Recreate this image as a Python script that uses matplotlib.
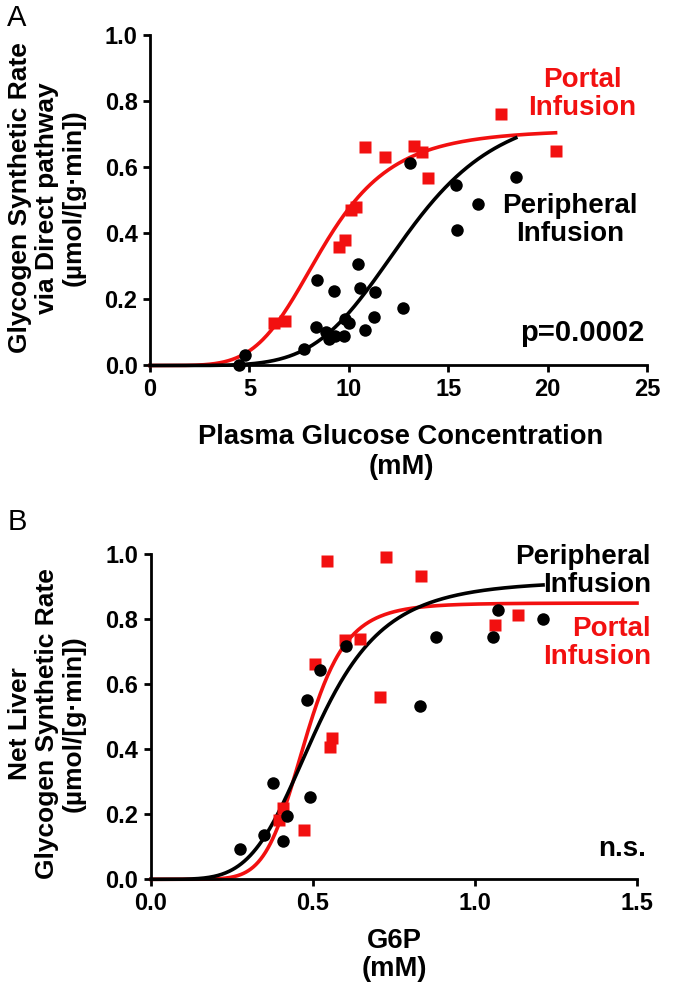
import numpy as np
import matplotlib
matplotlib.use("Agg")
import matplotlib.pyplot as plt

plt.rcParams['font.family'] = ['Liberation Sans', 'DejaVu Sans']

# ---------------- Panel A data ----------------
a_portal_x = [6.25, 6.8, 9.5, 9.83, 10.1, 10.35, 10.8, 11.8, 13.3, 13.67, 13.97, 17.67, 20.4]
a_portal_y = [0.13, 0.135, 0.358, 0.38, 0.47, 0.48, 0.66, 0.63, 0.665, 0.646, 0.566, 0.76, 0.65]
a_periph_x = [4.5, 4.78, 7.75, 8.33, 8.42, 8.83, 9.0, 9.25, 9.33, 9.75, 9.83, 10.0, 10.47,
              10.58, 10.8, 11.25, 11.33, 12.75, 13.08, 15.37, 15.42, 16.5, 18.42]
a_periph_y = [0.0, 0.032, 0.05, 0.116, 0.258, 0.10, 0.08, 0.225, 0.09, 0.088, 0.14, 0.128, 0.306,
              0.234, 0.108, 0.148, 0.222, 0.174, 0.613, 0.547, 0.41, 0.488, 0.57]
# Hill fit parameters (Vmax, K, n) and curve x-range
a_portal_fit = (0.715, 8.7, 4.9)
a_periph_fit = (0.79, 12.9, 5.4)
a_portal_range = (0.0, 20.4)
a_periph_range = (0.0, 18.4)

# ---------------- Panel B data ----------------
b_portal_x = [0.396, 0.407, 0.473, 0.507, 0.553, 0.559, 0.598, 0.644, 0.708, 0.542, 0.725, 0.832, 1.062, 1.134]
b_portal_y = [0.182, 0.218, 0.152, 0.662, 0.408, 0.434, 0.736, 0.739, 0.56, 0.98, 0.993, 0.933, 0.782, 0.813]
b_periph_x = [0.276, 0.350, 0.378, 0.406, 0.42, 0.483, 0.492, 0.522, 0.603, 0.829, 0.88, 1.055, 1.072, 1.211]
b_periph_y = [0.092, 0.135, 0.295, 0.118, 0.195, 0.552, 0.254, 0.644, 0.719, 0.534, 0.746, 0.745, 0.829, 0.80]
b_portal_fit = (0.85, 0.475, 7.5)
b_periph_fit = (0.92, 0.51, 4.8)
b_portal_range = (0.0, 1.5)
b_periph_range = (0.0, 1.21)

a_xticks = [0, 5, 10, 15, 20, 25]
b_xticks = [0.0, 0.5, 1.0, 1.5]
yticks = [0.0, 0.2, 0.4, 0.6, 0.8, 1.0]

RED = '#f21010'
W, H = 677, 994


def hill(x, p):
    v, k, n = p
    x = np.asarray(x, float)
    return v * x ** n / (k ** n + x ** n)


def px(x, y):
    return x / W, 1 - y / H


fig = plt.figure(figsize=(W / 100, H / 100), dpi=100)


def style_axes(ax):
    for s in ['top', 'right']:
        ax.spines[s].set_visible(False)
    for s in ['left', 'bottom']:
        ax.spines[s].set_linewidth(2.0)
    ax.tick_params(width=2.0, length=5, labelsize=17, pad=4)
    for lab in ax.get_xticklabels() + ax.get_yticklabels():
        lab.set_fontweight('bold')


# Panel A
axA = fig.add_axes([150 / W, 1 - 365.5 / H, 497 / W, 330.5 / H])
xa = np.linspace(*a_portal_range, 400)
axA.plot(xa, hill(xa, a_portal_fit), color=RED, lw=2.6, zorder=2, clip_on=False)
xb = np.linspace(*a_periph_range, 400)
axA.plot(xb, hill(xb, a_periph_fit), color='black', lw=2.6, zorder=2, clip_on=False)
axA.plot(a_portal_x, a_portal_y, 's', color=RED, ms=8.5, mec='none', zorder=3, clip_on=False)
axA.plot(a_periph_x, a_periph_y, 'o', color='black', ms=9, mec='none', zorder=4, clip_on=False)
axA.set_xlim(0, 25)
axA.set_ylim(0, 1.0)
axA.set_xticks(a_xticks)
axA.set_xticklabels([str(t) for t in a_xticks])
axA.set_yticks(yticks)
axA.set_yticklabels([f'{t:.1f}' for t in yticks])
style_axes(axA)

# Panel B
axB = fig.add_axes([151 / W, 1 - 879.3 / H, 486 / W, 325 / H])
xa = np.linspace(*b_portal_range, 400)
axB.plot(xa, hill(xa, b_portal_fit), color=RED, lw=2.6, zorder=2, clip_on=False)
xb = np.linspace(*b_periph_range, 400)
axB.plot(xb, hill(xb, b_periph_fit), color='black', lw=2.6, zorder=2, clip_on=False)
axB.plot(b_portal_x, b_portal_y, 's', color=RED, ms=8.5, mec='none', zorder=3, clip_on=False)
axB.plot(b_periph_x, b_periph_y, 'o', color='black', ms=9, mec='none', zorder=4, clip_on=False)
axB.set_xlim(0, 1.5)
axB.set_ylim(0, 1.0)
axB.set_xticks(b_xticks)
axB.set_xticklabels([f'{t:.1f}' for t in b_xticks])
axB.set_yticks(yticks)
axB.set_yticklabels([f'{t:.1f}' for t in yticks])
style_axes(axB)

# Axis labels
fig.text(*px(47, 198), 'Glycogen Synthetic Rate\nvia Direct pathway\n(µmol/[g·min])',
         rotation=90, ha='center', va='center', fontsize=19, fontweight='bold',
         multialignment='center', linespacing=1.15)
fig.text(*px(47, 724), 'Net Liver\nGlycogen Synthetic Rate\n(µmol/[g·min])',
         rotation=90, ha='center', va='center', fontsize=19, fontweight='bold',
         multialignment='center', linespacing=1.15)
fig.text(*px(401, 452), 'Plasma Glucose Concentration\n(mM)', ha='center', va='center',
         fontsize=19.7, fontweight='bold', linespacing=1.15)
fig.text(*px(394, 955), 'G6P\n(mM)', ha='center', va='center',
         fontsize=19.7, fontweight='bold', linespacing=1.15)

# Panel letters
fig.text(*px(17, 18), 'A', ha='center', va='center', fontsize=21)
fig.text(*px(17, 522), 'B', ha='center', va='center', fontsize=21)

# Annotations panel A
fig.text(*px(582, 94), 'Portal\nInfusion', color=RED, ha='center', va='center',
         fontsize=20, fontweight='bold', linespacing=1.1)
fig.text(*px(570, 220), 'Peripheral\nInfusion', color='black', ha='center', va='center',
         fontsize=20, fontweight='bold', linespacing=1.1)
fig.text(*px(644, 333), 'p=0.0002', color='black', ha='right', va='center',
         fontsize=21, fontweight='bold')

# Annotations panel B
fig.text(*px(651, 571), 'Peripheral\nInfusion', color='black', ha='right', va='center',
         fontsize=20, fontweight='bold', linespacing=1.1, multialignment='right')
fig.text(*px(651, 643), 'Portal\nInfusion', color=RED, ha='right', va='center',
         fontsize=20, fontweight='bold', linespacing=1.1, multialignment='right')
fig.text(*px(646, 849), 'n.s.', color='black', ha='right', va='center',
         fontsize=20, fontweight='bold')

fig.savefig('out.png', dpi=100)
